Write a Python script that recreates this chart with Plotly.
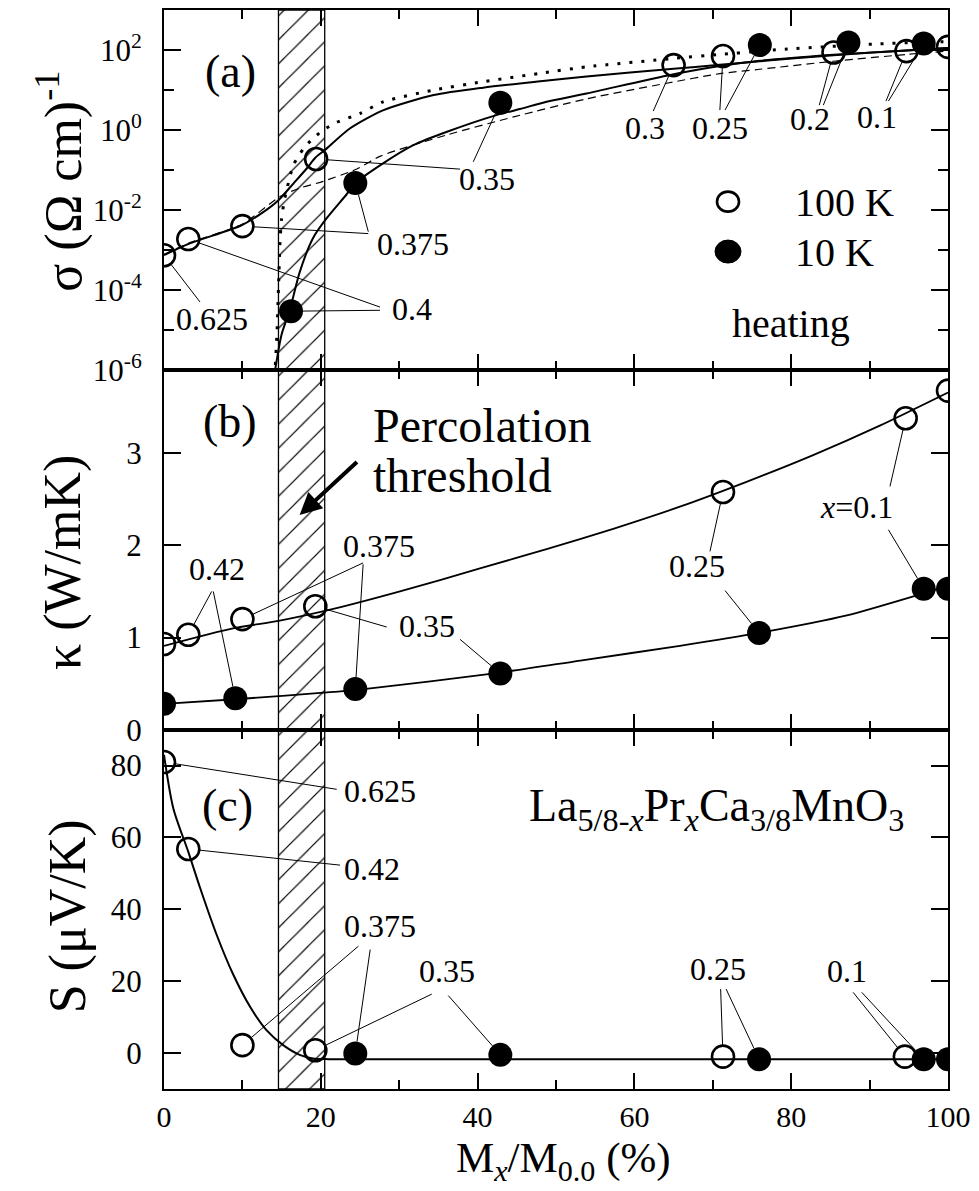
import numpy as np
import plotly.graph_objects as go

FONT = "Liberation Serif, Times New Roman, serif"

# ---------------- data ----------------
# panel (a): conductivity sigma (Ohm cm)^-1
a_open_x = [0.0, 3.1, 10.0, 19.4, 65.0, 71.3, 85.4, 94.7, 100.0]
a_open_y = [7.5e-4, 1.9e-3, 4.0e-3, 0.19, 42.0, 71.0, 87.0, 94.0, 120.0]
a_fill_x = [16.2, 24.4, 42.9, 76.0, 87.3, 96.9]
a_fill_y = [3.0e-5, 0.048, 4.8, 133.0, 155.0, 146.0]

a_solid100_x = [0, 3.3, 9.9, 12.7, 14.6, 16.5, 18.2, 19.3, 20.5, 23.7, 28.0, 34.4,
                40.7, 48.0, 53.9, 65.0, 70.9, 76.0, 85.4, 94.7, 100]
a_solid100_y = [7.5e-4, 1.48e-3, 4.2e-3, 9.1e-3, 0.0178, 0.0462, 0.11, 0.204, 0.316,
                1.10, 3.16, 7.5, 11.5, 16.6, 21.9, 33.9, 42.7, 52.5, 74.1, 97.7, 112]
a_solid10_x = [14.2, 15.0, 16.1, 17.3, 19.0, 20.75, 23.3, 24.4, 27.6, 31.8, 36.1, 42.4,
               45.4, 48.8, 53.9, 64.1, 70.9, 76.0, 85.4, 94.7, 100]
a_solid10_y = [1.1e-6, 7.9e-6, 3.5e-5, 2.8e-4, 2.0e-3, 6.3e-3, 0.025, 0.047, 0.133, 0.42,
               0.91, 2.37, 3.35, 5.13, 8.22, 22.9, 39.8, 53.7, 75.9, 97.7, 112]
a_dash_x = [0, 3.3, 9.9, 14.8, 17.3, 20.3, 24.6, 27.6, 36.1, 44.6, 53.9, 64.1, 70.9,
            76.0, 85.4, 94.7, 100]
a_dash_y = [7.9e-4, 1.55e-3, 4.4e-3, 0.0219, 0.0355, 0.0525, 0.107, 0.224, 0.759, 2.14,
            6.03, 14.8, 25.7, 33.1, 52.5, 77.6, 94.4]
a_dot_x = [14.2, 14.4, 14.6, 14.8, 15.0, 15.4, 16.5, 17.8, 19.0, 20.3, 22.0, 25.0, 28.0,
           34.4, 40.7, 48.0, 53.9, 65.0, 70.9, 76.0, 77.7, 90.5, 97.3, 100]
a_dot_y = [1.35e-6, 7.6e-6, 1.1e-4, 1.62e-3, 6.2e-3, 0.0195, 0.133, 0.347, 0.617, 1.0,
           1.55, 2.6, 5.13, 10.0, 16.2, 26.3, 38.0, 61.7, 77.6, 93.3, 100, 141, 158, 162]

# panel (b): thermal conductivity kappa (W/mK)
b_open_x = [0.0, 3.1, 10.0, 19.3, 71.3, 94.6, 100.0]
b_open_y = [0.93, 1.03, 1.20, 1.34, 2.58, 3.38, 3.68]
b_fill_x = [0.0, 9.1, 24.4, 42.9, 75.9, 96.9, 100.0]
b_fill_y = [0.28, 0.34, 0.44, 0.61, 1.05, 1.53, 1.53]
b_curve100_x = [0, 8.8, 14.6, 21.6, 30.1, 40.3, 48.8, 57.3, 65.8, 74.3, 82.8, 91.3, 100]
b_curve100_y = [0.91, 1.10, 1.18, 1.31, 1.50, 1.75, 1.96, 2.18, 2.42, 2.69, 2.98, 3.30, 3.66]
b_curve10_x = [0, 9.1, 21.6, 24.4, 42.9, 53.1, 65.8, 75.9, 87.1, 96.9, 100]
b_curve10_y = [0.28, 0.33, 0.41, 0.43, 0.62, 0.75, 0.91, 1.05, 1.24, 1.48, 1.56]

# panel (c): thermopower S (uV/K)
c_open_x = [0.0, 3.1, 10.0, 19.3, 71.3, 94.5]
c_open_y = [81.0, 56.8, 2.2, 0.8, -1.0, -1.0]
c_fill_x = [24.4, 42.9, 75.9, 96.9, 100.0]
c_fill_y = [-0.1, -0.5, -1.7, -1.7, -1.7]
c_curve_x = [0, 1.2, 3.1, 4.6, 6.7, 8.8, 11.0, 13.1, 15.2, 17.3, 19.0, 21.0, 30, 50, 70, 90, 100]
c_curve_y = [83, 68, 56, 46, 33, 22, 12.8, 6.3, 2.2, -0.5, -1.5, -1.7, -1.7, -1.7, -1.7, -1.7, -1.7]

# percolation threshold band (x range, %)
band_x = [14.6, 20.5]

# composition labels: (text, text_x, text_y, [(start_x, start_y, 'open'/'fill', index), ...])
labels_a = [
    ("0.625", 6.08, 1.95e-5, [(4.59, 5.1e-5, "open", 0)]),
    ("0.4", 31.6, 3.47e-5, [(27.55, 3.8e-5, "open", 1), (27.55, 3.16e-5, "fill", 0)]),
    ("0.375", 31.8, 1.46e-3, [(26.06, 2.6e-3, "open", 2), (26.06, 2.9e-3, "fill", 1)]),
    ("0.35", 41.16, 0.0617, [(37.76, 0.106, "open", 3), (39.45, 0.162, "fill", 2)]),
    ("0.3", 61.35, 1.1, [(62.4, 2.99, "open", 4)]),
    ("0.25", 70.9, 1.1, [(70.9, 3.16, "open", 5), (71.56, 3.16, "fill", 3)]),
    ("0.2", 82.4, 1.95, [(83.58, 4.2, "open", 6), (84.1, 4.2, "fill", 4)]),
    ("0.1", 90.9, 2.14, [(92.09, 5.3, "open", 7), (92.4, 5.3, "fill", 5)]),
]
labels_b = [
    ("0.42", 6.72, 1.74, [(6.08, 1.50, "open", 1), (6.29, 1.50, "fill", 1)]),
    ("0.375", 27.4, 1.99, [(25.4, 1.81, "open", 2), (25.4, 1.795, "fill", 2)]),
    ("0.35", 33.5, 1.124, [(28.4, 1.114, "open", 3), (37.76, 0.98, "fill", 3)]),
    ("0.25", 67.95, 1.773, [(69.64, 1.935, "open", 4), (71.56, 1.51, "fill", 4)]),
    ("<i>x</i>=0.1", 88.35, 2.42, [(92.6, 2.64, "open", 5), (92.4, 2.17, "fill", 5)]),
]
labels_c = [
    ("0.625", 27.55, 72.9, [(22.03, 73.4, "open", 0)]),
    ("0.42", 26.5, 51.3, [(22.45, 52.3, "open", 1)]),
    ("0.375", 27.55, 35.3, [(24.8, 29.75, "open", 2), (26.3, 28.8, "fill", 0)]),
    ("0.35", 36.06, 22.9, [(34.15, 16.4, "open", 3), (36.26, 16.0, "fill", 1)]),
    ("0.25", 70.6, 23.3, [(71.0, 17.8, "open", 4), (71.7, 17.8, "fill", 2)]),
    ("0.1", 87.1, 22.9, [(87.9, 16.9, "open", 5), (89.0, 16.9, "fill", 3)]),
]

# ---------------- layout geometry ----------------
W, H = 979, 1191
ML, MR, MT, MB = 164, 31, 8, 102
PW, PH = W - ML - MR, H - MT - MB
dom_a = [(H - MB - 369) / PH, 1.0]
dom_b = [(H - MB - 729) / PH, dom_a[0]]
dom_c = [0.0, dom_b[0]]
range_a = [-6, 3]
range_b = [0, 3.9]
range_c = [-10, 90]
SX = PW / 100.0

fig = go.Figure()

panels = [
    dict(xr="x", yr="y", dom=dom_a, log=True, rng=range_a,
         ox=a_open_x, oy=a_open_y, fx=a_fill_x, fy=a_fill_y, labels=labels_a),
    dict(xr="x2", yr="y2", dom=dom_b, log=False, rng=range_b,
         ox=b_open_x, oy=b_open_y, fx=b_fill_x, fy=b_fill_y, labels=labels_b),
    dict(xr="x3", yr="y3", dom=dom_c, log=False, rng=range_c,
         ox=c_open_x, oy=c_open_y, fx=c_fill_x, fy=c_fill_y, labels=labels_c),
]

# hatched band in every panel
for p in panels:
    if p["log"]:
        y0, y1 = 10 ** p["rng"][0], 10 ** p["rng"][1]
    else:
        y0, y1 = p["rng"]
    fig.add_trace(go.Scatter(
        x=[band_x[0], band_x[1], band_x[1], band_x[0], band_x[0]],
        y=[y0, y0, y1, y1, y0], xaxis=p["xr"], yaxis=p["yr"],
        mode="lines", fill="toself", fillcolor="rgba(0,0,0,0)",
        fillpattern=dict(shape="/", size=17, solidity=0.07, fgcolor="black",
                         bgcolor="rgba(0,0,0,0)", fgopacity=1),
        line=dict(color="black", width=1.3), hoverinfo="skip", showlegend=False))

def curve(x, y, xr, yr, width=2, dash="solid", smooth=0.7):
    fig.add_trace(go.Scatter(x=x, y=y, xaxis=xr, yaxis=yr, mode="lines",
                             line=dict(color="black", width=width, dash=dash,
                                       shape="spline", smoothing=smooth),
                             hoverinfo="skip", showlegend=False))

curve(a_dot_x, a_dot_y, "x", "y", width=3, dash="3px,9px", smooth=0.6)
curve(a_dash_x, a_dash_y, "x", "y", width=1.2, dash="8px,5px")
curve(a_solid100_x, a_solid100_y, "x", "y", width=2)
curve(a_solid10_x, a_solid10_y, "x", "y", width=2)
curve(b_curve100_x, b_curve100_y, "x2", "y2", width=1.8)
curve(b_curve10_x, b_curve10_y, "x2", "y2", width=1.8)
curve(c_curve_x, c_curve_y, "x3", "y3", width=2, smooth=0.8)

annotations = []

# leader lines and composition labels
for p in panels:
    dom_h = (p["dom"][1] - p["dom"][0]) * PH
    sy = dom_h / (p["rng"][1] - p["rng"][0])
    tf = (lambda v: np.log10(v)) if p["log"] else (lambda v: v)
    itf = (lambda v: 10 ** v) if p["log"] else (lambda v: v)
    lx, ly = [], []
    for text, tx, ty, leads in p["labels"]:
        annotations.append(dict(x=tx, y=float(tf(ty)), xref=p["xr"], yref=p["yr"],
                                text=text, showarrow=False, xanchor="center",
                                yanchor="middle",
                                font=dict(family=FONT, size=32, color="black")))
        for sx0, sy0, kind, idx in leads:
            if kind == "open":
                ex, ey, r = p["ox"][idx], p["oy"][idx], 11.5
            else:
                ex, ey, r = p["fx"][idx], p["fy"][idx], 12.0
            X0, Y0 = sx0 * SX, tf(sy0) * sy
            X1, Y1 = ex * SX, tf(ey) * sy
            d = np.hypot(X1 - X0, Y1 - Y0)
            t = max(0.0, (d - r) / d)
            xe = (X0 + (X1 - X0) * t) / SX
            ye = itf((Y0 + (Y1 - Y0) * t) / sy)
            lx += [sx0, xe, None]
            ly += [sy0, float(ye), None]
    fig.add_trace(go.Scatter(x=lx, y=ly, xaxis=p["xr"], yaxis=p["yr"], mode="lines",
                             line=dict(color="black", width=1), hoverinfo="skip",
                             showlegend=False))

# markers
for p in panels:
    fig.add_trace(go.Scatter(x=p["ox"], y=p["oy"], xaxis=p["xr"], yaxis=p["yr"],
                             mode="markers", name="100 K",
                             marker=dict(symbol="circle-open", size=22, color="black",
                                         line=dict(width=2.6, color="black")),
                             showlegend=False))
    fig.add_trace(go.Scatter(x=p["fx"], y=p["fy"], xaxis=p["xr"], yaxis=p["yr"],
                             mode="markers", name="10 K",
                             marker=dict(symbol="circle", size=24, color="black"),
                             showlegend=False))

def px2paper(px, py):
    return (px - ML) / PW, (H - MB - py) / PH

def add_text(text, px, py, size, xanchor="center", yanchor="middle", angle=0):
    x, y = px2paper(px, py)
    annotations.append(dict(x=x, y=y, xref="paper", yref="paper", text=text,
                            showarrow=False, xanchor=xanchor, yanchor=yanchor,
                            textangle=angle,
                            font=dict(family=FONT, size=size, color="black")))

add_text("(a)", 230, 70, 46)
add_text("(b)", 230, 420, 46)
add_text("(c)", 227, 805, 46)
add_text("100 K", 793, 201, 40, xanchor="left")
add_text("10 K", 793, 251, 40, xanchor="left")
add_text("heating", 791, 322, 40)
add_text("Percolation", 371, 424, 48, xanchor="left")
add_text("threshold", 371, 474, 48, xanchor="left")
add_text("La<sub>5/8-<i>x</i></sub>Pr<sub><i>x</i></sub>Ca<sub>3/8</sub>MnO<sub>3</sub>",
         716, 808, 46)
add_text("σ (Ω cm)<sup>-1</sup>", 60, 180, 52, angle=-90)
add_text("κ (W/mK)", 63, 562, 52, angle=-90)
add_text("S (μV/K)", 68, 916, 52, angle=-90)
add_text("M<sub><i>x</i></sub>/M<sub>0.0</sub> (%)", 563, 1190, 43, yanchor="bottom")

# percolation arrow in panel (b)
annotations.append(dict(x=17.3, y=2.33, ax=24.8, ay=2.92, xref="x2", yref="y2",
                        axref="x2", ayref="y2", text="", showarrow=True, arrowhead=2,
                        arrowsize=1.1, arrowwidth=4, arrowcolor="black", standoff=0))

# legend glyphs in panel (a)
shapes = []
lgx, lgy1 = px2paper(728, 200)
_, lgy2 = px2paper(728, 250)
shapes.append(dict(type="circle", xref="paper", yref="paper", xsizemode="pixel",
                   ysizemode="pixel", xanchor=lgx, yanchor=lgy1, x0=-11, x1=11,
                   y0=-10, y1=10, line=dict(color="black", width=2.6),
                   fillcolor="rgba(0,0,0,0)"))
shapes.append(dict(type="circle", xref="paper", yref="paper", xsizemode="pixel",
                   ysizemode="pixel", xanchor=lgx, yanchor=lgy2, x0=-13, x1=13,
                   y0=-11.5, y1=11.5, line=dict(color="black", width=1),
                   fillcolor="black"))

tickfont = dict(family=FONT, size=31, color="black")
xtickfont = dict(family=FONT, size=30, color="black")

def xaxis_cfg(anchor, show_labels):
    return dict(range=[0, 100], tick0=0, dtick=20, ticks="inside", ticklen=16,
                tickwidth=1.5, tickcolor="black",
                minor=dict(dtick=10, ticks="inside", ticklen=9, tickwidth=1.5,
                           tickcolor="black"),
                showline=True, linewidth=2, linecolor="black", mirror="ticks",
                showgrid=False, zeroline=False, anchor=anchor, domain=[0, 1],
                showticklabels=show_labels, tickfont=xtickfont, ticklabelstandoff=0)

def yaxis_cfg(anchor, dom, **kw):
    d = dict(ticks="inside", ticklen=17, tickwidth=1.5, tickcolor="black",
             showline=True, linewidth=2, linecolor="black", mirror="ticks",
             showgrid=False, zeroline=False, anchor=anchor, domain=dom,
             tickfont=tickfont, ticklabelstandoff=14)
    d.update(kw)
    return d

fig.update_layout(
    width=W, height=H, margin=dict(l=ML, r=MR, t=MT, b=MB),
    paper_bgcolor="white", plot_bgcolor="white", showlegend=False,
    xaxis=xaxis_cfg("y", False),
    xaxis2=xaxis_cfg("y2", False),
    xaxis3=xaxis_cfg("y3", True),
    yaxis=yaxis_cfg("x", dom_a, type="log", range=range_a,
                    tickvals=[1e-6, 1e-4, 1e-2, 1, 1e2],
                    ticktext=["10<sup>-6</sup>", "10<sup>-4</sup>", "10<sup>-2</sup>",
                              "10<sup>0</sup>", "10<sup>2</sup>"],
                    minor=dict(tickmode="array", tickvals=[1e-5, 1e-3, 1e-1, 10],
                               ticks="inside", ticklen=10, tickwidth=1.5,
                               tickcolor="black")),
    yaxis2=yaxis_cfg("x2", dom_b, range=range_b, tickvals=[0, 1, 2, 3]),
    yaxis3=yaxis_cfg("x3", dom_c, range=range_c, tickvals=[0, 20, 40, 60, 80]),
    annotations=annotations, shapes=shapes,
    font=dict(family=FONT, color="black"),
)

fig.write_html("out.html")
